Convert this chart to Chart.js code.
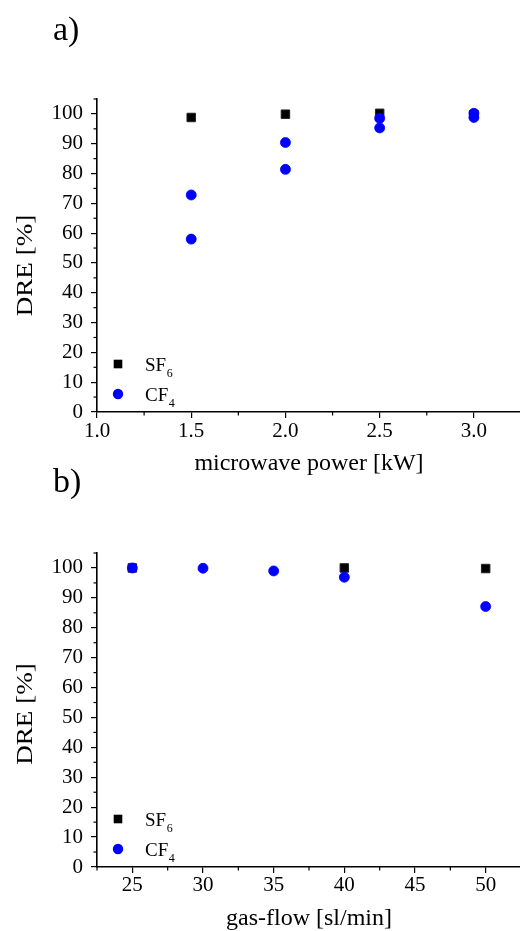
<!DOCTYPE html>
<html>
<head>
<meta charset="utf-8">
<script src="https://cdn.jsdelivr.net/npm/chart.js@4.4.1/dist/chart.umd.min.js"></script>
<style>
  html, body { margin: 0; padding: 0; background: #fff; }
  #page { position: relative; width: 520px; height: 931px; overflow: hidden; background: #fff; }
  canvas { position: absolute; left: 0; }
  #chartA { top: 0; }
  #chartB { top: 440px; }
</style>
</head>
<body>
<div id="page">
  <canvas id="chartA" width="528" height="480"></canvas>
  <canvas id="chartB" width="528" height="495"></canvas>
</div>
<script>
// a) DRE over microwave power
const powerSF6 = [1.5, 2.0, 2.5, 3.0];
const dreSF6Power = [98.8, 99.9, 100.2, 99.8];
const powerCF4 = [1.5, 1.5, 2.0, 2.0, 2.5, 2.5, 3.0, 3.0];
const dreCF4Power = [72.8, 58.0, 90.4, 81.4, 98.5, 95.3, 100.2, 98.8];
const powerTicks = [1.0, 1.5, 2.0, 2.5, 3.0];
const powerMinor = [1.25, 1.75, 2.25, 2.75, 3.25];

// b) DRE over gas flow
const flowSF6 = [25, 40, 50];
const dreSF6Flow = [100, 100, 99.8];
const flowCF4 = [25, 30, 35, 40, 50];
const dreCF4Flow = [100, 99.9, 99.0, 96.9, 87.1];
const flowTicks = [25, 30, 35, 40, 45, 50];
const flowMinor = [22.5, 27.5, 32.5, 37.5, 42.5, 47.5, 52.5];

// y axis (both panels)
const dreTicks = [0, 10, 20, 30, 40, 50, 60, 70, 80, 90, 100];
const dreMinor = [5, 15, 25, 35, 45, 55, 65, 75, 85, 95, 105];

const seriesLabels = ['SF6', 'CF4'];
const SERIF = '"Liberation Serif", "Times New Roman", serif';

// minor ticks, panel letter, y title and the inset legend
const decor = {
    id: 'decor',
    afterDraw(chart, args, opts) {
        const { ctx, chartArea: a, scales } = chart;
        ctx.save();

        // minor ticks
        ctx.strokeStyle = '#000';
        ctx.lineWidth = 1.2;
        opts.xMinor.forEach(v => {
            const x = scales.x.getPixelForValue(v);
            ctx.beginPath();
            ctx.moveTo(x, a.bottom);
            ctx.lineTo(x, a.bottom + 3.5);
            ctx.stroke();
        });
        opts.yMinor.forEach(v => {
            const y = scales.y.getPixelForValue(v);
            ctx.beginPath();
            ctx.moveTo(a.left, y);
            ctx.lineTo(a.left - 3.5, y);
            ctx.stroke();
        });

        // panel letter
        ctx.fillStyle = '#000';
        ctx.font = '34px ' + SERIF;
        ctx.textAlign = 'left';
        ctx.textBaseline = 'alphabetic';
        ctx.fillText(opts.panel, 53, opts.panelY);

        // y title
        ctx.save();
        ctx.translate(26, (a.top + a.bottom) / 2 + opts.yShift);
        ctx.rotate(-Math.PI / 2);
        ctx.scale(1.13, 1);
        ctx.font = '24px ' + SERIF;
        ctx.textAlign = 'center';
        ctx.textBaseline = 'middle';
        ctx.fillText('DRE [%]', 0, 0);
        ctx.restore();

        // legend
        chart.data.datasets.forEach((ds, i) => {
            const mx = a.left + 21;
            const my = a.bottom - 48 + 30 * i;
            ctx.fillStyle = ds.backgroundColor;
            if (ds.pointStyle === 'rect') {
                ctx.fillRect(mx - 4.3, my - 4.3, 8.6, 8.6);
            } else {
                ctx.beginPath();
                ctx.arc(mx, my, 5.2, 0, Math.PI * 2);
                ctx.fill();
            }
            const main = ds.label.slice(0, -1);
            const sub = ds.label.slice(-1);
            ctx.fillStyle = '#000';
            ctx.textAlign = 'left';
            ctx.textBaseline = 'alphabetic';
            ctx.font = '19px ' + SERIF;
            ctx.fillText(main, a.left + 48, my + 7);
            const w = ctx.measureText(main).width;
            ctx.font = '12px ' + SERIF;
            ctx.fillText(sub, a.left + 48 + w + 0.5, my + 13);
        });

        ctx.restore();
    }
};

function points(xs, ys) {
    return xs.map((x, i) => ({ x: x, y: ys[i] }));
}

function makeChart(id, setup) {
    const tickFont = { family: SERIF, size: 21 };
    return new Chart(document.getElementById(id), {
        type: 'scatter',
        data: {
            datasets: [
                {
                    label: seriesLabels[0],
                    data: points(setup.xSF6, setup.ySF6),
                    pointStyle: 'rect',
                    pointRadius: 6,
                    backgroundColor: '#000',
                    borderColor: '#222',
                    borderWidth: 1,
                    order: 2
                },
                {
                    label: seriesLabels[1],
                    data: points(setup.xCF4, setup.yCF4),
                    pointStyle: 'circle',
                    pointRadius: 5,
                    backgroundColor: '#0000ff',
                    borderColor: '#0000ff',
                    borderWidth: 0.8,
                    order: 1
                }
            ]
        },
        options: {
            responsive: false,
            animation: false,
            devicePixelRatio: 1,
            layout: { padding: { top: setup.padTop, right: 3, left: 0, bottom: 0 } },
            plugins: {
                legend: { display: false },
                tooltip: { enabled: false },
                decor: {
                    xMinor: setup.xMinor,
                    yMinor: dreMinor,
                    panel: setup.panel,
                    panelY: setup.panelY,
                    yShift: setup.yShift
                }
            },
            scales: {
                x: {
                    type: 'linear',
                    min: setup.xMin,
                    max: setup.xMax,
                    afterBuildTicks: s => { s.ticks = setup.xTicks.map(v => ({ value: v })); },
                    afterFit: s => { s.height = setup.xHeight; },
                    ticks: {
                        autoSkip: false,
                        maxRotation: 0,
                        padding: setup.xTickPad,
                        color: '#000',
                        font: tickFont,
                        callback: setup.xFormat
                    },
                    grid: { drawOnChartArea: false, drawTicks: true, tickLength: 6, color: '#000', lineWidth: 1.2 },
                    border: { color: '#000', width: 1.6 },
                    title: {
                        display: true,
                        text: setup.xTitle,
                        color: '#000',
                        font: { family: SERIF, size: 24 },
                        padding: { top: 0, bottom: 2 }
                    }
                },
                y: {
                    type: 'linear',
                    min: 0,
                    max: 105,
                    afterBuildTicks: s => { s.ticks = dreTicks.map(v => ({ value: v })); },
                    afterFit: s => { s.width = 97; },
                    ticks: { autoSkip: false, padding: 8, color: '#000', font: tickFont },
                    grid: { drawOnChartArea: false, drawTicks: true, tickLength: 6, color: '#000', lineWidth: 1.2 },
                    border: { color: '#000', width: 1.6 }
                }
            }
        },
        plugins: [decor]
    });
}

makeChart('chartA', {
    xSF6: powerSF6, ySF6: dreSF6Power,
    xCF4: powerCF4, yCF4: dreCF4Power,
    xMin: 1.0, xMax: 3.25,
    xTicks: powerTicks, xMinor: powerMinor,
    xFormat: v => Number(v).toFixed(1),
    xTitle: 'microwave power [kW]',
    xTickPad: 1,
    xHeight: 68,
    padTop: 99,
    panel: 'a)', panelY: 40, yShift: 10
});

makeChart('chartB', {
    xSF6: flowSF6, ySF6: dreSF6Flow,
    xCF4: flowCF4, yCF4: dreCF4Flow,
    xMin: 22.5, xMax: 52.5,
    xTicks: flowTicks, xMinor: flowMinor,
    xFormat: v => String(v),
    xTitle: 'gas-flow [sl/min]',
    xTickPad: 0,
    xHeight: 68,
    padTop: 113,
    panel: 'b)', panelY: 52, yShift: 4
});
</script>
</body>
</html>
